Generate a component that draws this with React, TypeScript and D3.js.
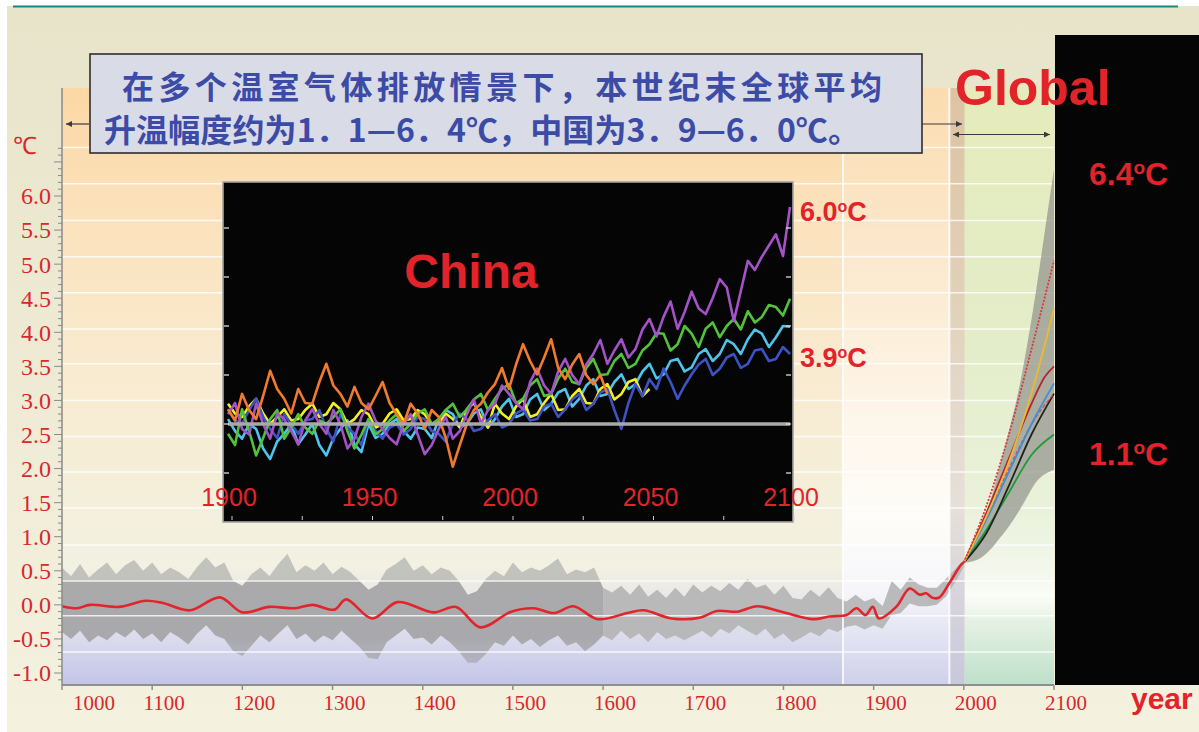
import React from 'react';
import * as d3 from 'd3';

// ---------- main chart: global temperature 1000–2100 ----------
const xTickYears = [1000, 1100, 1200, 1300, 1400, 1500, 1600, 1700, 1800, 1900, 2000, 2100];
const yTickValues = [6.0, 5.5, 5.0, 4.5, 4.0, 3.5, 3.0, 2.5, 2.0, 1.5, 1.0, 0.5, 0.0, -0.5, -1.0];
const gridValues = [-0.69, -0.16, 0.35, 0.88, 1.42, 1.95, 2.47, 3.0, 3.54, 4.05, 4.58, 5.11, 5.64, 6.18, 6.71];

// uncertainty range of the reconstruction, one value per decade 1000–2000
const bandYears = d3.range(1000, 2001, 10);
const bandUpper = [
  0.55, 0.42, 0.6, 0.4, 0.52, 0.62, 0.45, 0.58, 0.66, 0.5,
  0.62, 0.45, 0.55, 0.48, 0.38, 0.56, 0.7, 0.55, 0.62, 0.35,
  0.28, 0.45, 0.55, 0.42, 0.6, 0.75, 0.48, 0.58, 0.5, 0.62,
  0.45, 0.56, 0.48, 0.35, 0.22, 0.3, 0.52, 0.6, 0.7, 0.5,
  0.58, 0.45, 0.55, 0.5, 0.35, 0.15, 0.2, 0.38, 0.5, 0.42,
  0.62, 0.48, 0.55, 0.5, 0.58, 0.68, 0.45, 0.52, 0.48, 0.55,
  0.25, 0.18, 0.28, 0.15, 0.3, 0.12, 0.22, 0.1, 0.25, 0.12,
  0.3, 0.18, 0.28, 0.2, 0.32, 0.22, 0.38, 0.25, 0.3, 0.15,
  0.28, 0.1, 0.08, 0.22, 0.12, 0.26, 0.1, 0.05, 0.15, 0.05,
  0.1, -0.02, 0.35, 0.22, 0.4, 0.3, 0.25, 0.25, 0.38, 0.52,
  0.66,
];
const bandLower = [
  -0.4, -0.5, -0.38, -0.55, -0.45, -0.52, -0.4, -0.48, -0.36, -0.5,
  -0.42, -0.55, -0.4, -0.48, -0.58, -0.42, -0.3, -0.45, -0.5, -0.68,
  -0.75, -0.6, -0.45, -0.55, -0.42, -0.3, -0.5, -0.42, -0.55, -0.45,
  -0.52, -0.38, -0.5, -0.62, -0.78, -0.8, -0.55, -0.45, -0.35, -0.5,
  -0.48, -0.58, -0.45, -0.55, -0.68, -0.85, -0.85, -0.72, -0.55, -0.6,
  -0.45, -0.58, -0.5, -0.62, -0.52, -0.45, -0.6, -0.55, -0.68, -0.58,
  -0.45, -0.52, -0.38, -0.5, -0.42, -0.55, -0.4, -0.5, -0.45, -0.52,
  -0.45, -0.38, -0.48, -0.35, -0.42, -0.3, -0.38, -0.45, -0.35, -0.5,
  -0.42, -0.55, -0.48, -0.4, -0.46, -0.35, -0.4, -0.32, -0.3, -0.36,
  -0.3, -0.35, -0.15, -0.12, 0.02, -0.02, -0.02, 0.0, 0.12, 0.32,
  0.56,
];

// smoothed temperature curve
const smoothYears = [
  1000, 1017, 1031, 1063, 1093, 1111, 1142, 1175, 1200, 1230, 1258, 1278, 1302, 1315, 1344, 1372,
  1412, 1437, 1464, 1498, 1523, 1546, 1567, 1594, 1627, 1645, 1676, 1707, 1726, 1749, 1771, 1800,
  1833, 1851, 1870, 1881, 1891, 1899, 1906, 1925, 1940, 1951, 1958, 1966, 1973, 1984, 1997, 2000,
];
const smoothValues = [
  -0.02, -0.05, 0.0, -0.03, 0.06, 0.03, -0.08, 0.11, -0.11, -0.03, -0.05, 0.0, -0.07, 0.08, -0.2, 0.04,
  -0.11, -0.03, -0.33, -0.1, -0.05, -0.12, -0.02, -0.21, -0.12, -0.08, -0.2, -0.19, -0.09, -0.1, -0.02, -0.11,
  -0.21, -0.17, -0.15, -0.05, -0.15, -0.03, -0.2, -0.03, 0.24, 0.15, 0.17, 0.1, 0.11, 0.32, 0.59, 0.62,
];

// projection envelope 2000–2100
const envYears = [2000, 2010, 2020, 2030, 2040, 2050, 2060, 2070, 2080, 2090, 2100];
const envUpper = [0.62, 0.85, 1.15, 1.55, 2.05, 2.55, 3.1, 3.8, 4.6, 5.5, 6.4];
const envLower = [0.62, 0.64, 0.7, 0.82, 0.98, 1.15, 1.35, 1.58, 1.8, 1.92, 1.98];

// scenario projections
const scenYears = [2000, 2025, 2050, 2075, 2100];
const a1fiValues = [0.62, 1.45, 2.5, 3.75, 5.05];
const a2Values = [0.62, 1.3, 2.1, 3.1, 4.35];
const a1bYears = [2000, 2025, 2050, 2075, 2090, 2100];
const a1bValues = [0.62, 1.35, 2.15, 2.95, 3.35, 3.5];
const b2Values = [0.62, 1.25, 1.95, 2.65, 3.25];
const a1tValues = [0.62, 1.3, 2.0, 2.65, 3.1];
const is92Values = [0.62, 1.05, 1.75, 2.5, 3.1];
const b1Values = [0.62, 1.1, 1.65, 2.2, 2.5];

// ---------- inset: China 1900–2100, every 2.5 years ----------
const chinaYears = d3.range(0, 81).map(i => 1900 + i * 2.5);
const chinaTickYears = [1900, 1950, 2000, 2050, 2100];
const chinaMinorYears = d3.range(1900, 2101, 25);
const chinaTickValues = [2.2, 2.9, 3.6, 4.3, 5.0, 5.7];
const chinaBaseline = 2.9;
const orangeValues = [
  3.11, 2.95, 3.33, 3.1, 2.97, 3.3, 3.66, 3.4, 3.26, 3.05,
  3.4, 3.2, 3.19, 3.5, 3.76, 3.45, 3.33, 3.15, 3.43, 3.2,
  3.11, 3.3, 3.5, 3.2, 3.04, 2.9, 3.19, 3.05, 2.83, 3.1,
  3.0, 2.7, 2.29, 2.6, 2.9, 3.1, 3.19, 3.35, 3.47, 3.7,
  3.4, 3.75, 4.04, 3.8, 3.61, 3.85, 4.11, 3.7, 3.54, 3.75,
  3.9, 3.6, 3.47, 3.6, 3.33,
];
const purpleValues = [
  3.04, 3.2, 2.83, 2.75, 3.19, 2.9, 2.69, 3.05, 2.97, 2.8,
  2.61, 2.95, 3.11, 2.9, 2.76, 3.1, 2.9, 2.55, 2.69, 3.0,
  3.19, 2.95, 2.83, 2.7, 2.61, 2.9, 3.04, 2.75, 2.47, 2.6,
  2.83, 3.0, 2.69, 2.8, 3.04, 3.25, 2.9, 3.1, 3.19, 3.45,
  3.33, 3.2, 3.11, 3.5, 3.69, 3.45, 3.33, 3.65, 3.83, 3.6,
  3.47, 3.75, 3.9, 4.1, 3.76, 3.95, 4.11, 3.85, 3.97, 4.25,
  4.4, 4.15, 4.43, 4.65, 4.26, 4.5, 4.79, 4.55, 4.47, 4.7,
  4.97, 4.85, 4.37, 4.8, 5.23, 5.1, 5.29, 5.45, 5.61, 5.3,
  6.0,
];
const greenValues = [
  2.76, 2.6, 3.11, 2.8, 2.45, 2.7, 2.97, 3.1, 2.69, 2.85,
  3.04, 2.85, 2.76, 2.95, 2.9, 3.0, 3.11, 2.8, 2.55, 2.75,
  2.97, 2.75, 2.83, 2.95, 3.04, 2.8, 2.9, 3.05, 3.11, 2.9,
  2.97, 3.1, 3.19, 3.0, 3.11, 3.25, 3.33, 3.1, 3.26, 3.4,
  3.47, 3.2, 3.26, 3.45, 3.54, 3.3, 3.33, 3.55, 3.69, 3.5,
  3.47, 3.7, 3.83, 3.6, 3.61, 3.8, 3.9, 3.7, 3.76, 3.95,
  4.04, 4.2, 4.19, 3.95, 4.04, 4.3, 4.19, 4.0, 4.26, 4.35,
  4.14, 4.3, 4.4, 4.25, 4.51, 4.35, 4.43, 4.6, 4.57, 4.45,
  4.69,
];
const cyanValues = [
  2.97, 2.8, 2.69, 2.9, 2.83, 2.55, 2.4, 2.65, 2.76, 2.9,
  2.61, 2.75, 2.9, 2.6, 2.45, 2.7, 2.83, 2.95, 2.61, 2.5,
  2.9, 2.7, 2.76, 2.9, 2.97, 2.8, 2.69, 2.85, 2.83, 2.7,
  2.97, 3.1, 3.04, 2.85, 2.9, 3.05, 3.11, 2.85, 2.97, 3.15,
  3.26, 3.0, 3.04, 3.25, 3.33, 3.1, 3.19, 3.35, 3.4, 3.15,
  3.26, 3.45, 3.54, 3.3, 3.33, 3.5, 3.61, 3.4, 3.47, 3.65,
  3.76, 3.55, 3.61, 3.8, 3.83, 3.65, 3.71, 3.9, 3.97, 3.8,
  3.9, 4.1, 4.04, 3.9, 4.11, 4.25, 4.19, 4.0, 4.14, 4.3,
  4.29,
];
const blueValues = [
  3.11, 2.95, 2.9, 3.1, 3.26, 3.0, 2.83, 2.7, 3.04, 2.9,
  2.76, 2.95, 2.97, 3.1, 2.83, 2.65, 3.04, 2.85, 2.76, 2.6,
  2.97, 2.8, 2.69, 2.85, 2.9, 2.75, 2.83, 3.0, 2.97, 2.8,
  2.76, 2.65, 2.9, 3.05, 2.97, 2.8, 2.83, 2.95, 3.04, 2.85,
  2.9, 3.05, 3.11, 2.95, 2.97, 3.15, 3.19, 3.0, 3.11, 3.25,
  3.33, 3.1, 3.19, 3.35, 3.4, 3.1, 2.83, 3.2, 3.47, 3.3,
  3.54, 3.4, 3.69, 3.5, 3.26, 3.45, 3.61, 3.75, 3.83, 3.6,
  3.69, 3.85, 3.9, 3.7, 3.76, 3.95, 3.97, 3.8, 3.83, 4.0,
  3.9,
];
const yellowValues = [
  3.19, 3.05, 3.0, 3.15, 3.26, 3.05, 2.9, 3.0, 3.11, 2.95,
  2.97, 3.1, 3.19, 3.0, 3.04, 3.2, 3.11, 2.9, 2.97, 3.1,
  3.04, 2.85, 2.9, 3.05, 3.11, 2.95, 2.97, 3.1, 3.04, 2.9,
  2.9, 3.05, 2.97, 2.85, 3.11, 3.2, 3.0, 2.85, 3.19, 3.05,
  2.97, 3.15, 3.26, 3.0, 3.04, 3.2, 3.33, 3.1, 3.11, 3.3,
  3.4, 3.2, 3.19, 3.4, 3.47, 3.25, 3.33, 3.5, 3.54, 3.3,
  3.4,
];
const blackValues = [
  3.05, 2.98, 2.95, 3.05, 3.1, 3.0, 2.98, 3.06, 3.08, 2.97,
  2.94, 3.02, 3.06, 2.95, 2.99, 3.07, 3.1, 3.0, 2.96, 3.05,
  3.04, 2.95, 2.98, 3.06, 3.07, 2.98, 2.95, 3.03, 3.02, 2.96,
  2.97, 3.06, 3.05, 2.97, 3.0, 3.07, 3.08, 2.99, 3.02, 3.08,
  3.05,
];

const RED = '#e2232a';
const AXIS_RED = '#d8282c';
const SANS = '"Liberation Sans", Arial, sans-serif';
const SERIF = '"Liberation Serif", "Times New Roman", serif';
const CJK = '"Noto Sans CJK SC", "Noto Sans", sans-serif';

type P = [number, number];
const zip = (xs: number[], vs: number[]): P[] => vs.map((v, i) => [xs[i], v]);

export default function App() {
  const x = d3.scaleLinear().domain([1000, 2100]).range([62, 1054]);
  const y = d3.scaleLinear().domain([-1, 6]).range([673, 196]);
  const plotTop = 88;
  const plotBottom = 685;
  const [x0, x1] = x.range();

  const ix = d3.scaleLinear().domain([1900, 2100]).range([228, 790]);
  const iy = d3.scaleLinear().domain([2.9, 6.0]).range([424, 207]);

  type B = { yr: number; lo: number; hi: number };
  const bandPts: B[] = bandYears.map((yr, i) => ({ yr, lo: bandLower[i], hi: bandUpper[i] }));
  const bandArea = d3.area<B>().x(d => x(d.yr)).y0(d => y(d.lo)).y1(d => y(d.hi));
  const envPts: B[] = envYears.map((yr, i) => ({ yr, lo: envLower[i], hi: envUpper[i] }));
  const envArea = d3.area<B>().x(d => x(d.yr)).y0(d => y(d.lo)).y1(d => y(d.hi)).curve(d3.curveMonotoneX);

  const smoothLine = d3.line<P>().x(d => x(d[0])).y(d => y(d[1])).curve(d3.curveCatmullRom.alpha(0.5));
  const projLine = d3.line<P>().x(d => x(d[0])).y(d => y(d[1])).curve(d3.curveMonotoneX);
  const chinaLine = d3.line<P>().x(d => ix(d[0])).y(d => iy(d[1]));

  const minorTicks = d3.range(-11, 68).map(k => k / 10);

  // modern / projection background columns (by year)
  const modernStart = x(1866);
  const stripStart = x(1984);
  const projStart = x(2001);

  // band shading: lighter outside the ±0.35 core
  const gTop = y(0.8);
  const gBot = y(-0.9);
  const off = (v: number) => (y(v) - gTop) / (gBot - gTop);

  const scenarios: { years: number[]; values: number[]; color: string; dash?: string; w: number }[] = [
    { years: scenYears, values: b1Values, color: '#1f9a3a', w: 1.8 },
    { years: scenYears, values: is92Values, color: '#222222', w: 1.8 },
    { years: scenYears, values: a1tValues, color: '#d04848', dash: '4 2', w: 1.2 },
    { years: scenYears, values: b2Values, color: '#3d8fd6', w: 1.8 },
    { years: a1bYears, values: a1bValues, color: '#b3262d', w: 1.8 },
    { years: scenYears, values: a2Values, color: '#f0b830', w: 1.8 },
    { years: scenYears, values: a1fiValues, color: '#d83a3a', dash: '2 1.5', w: 1.8 },
  ];

  const chinaSeries: { values: number[]; color: string }[] = [
    { values: blackValues, color: '#000000' },
    { values: cyanValues, color: '#4cc4ec' },
    { values: yellowValues, color: '#f2f020' },
    { values: blueValues, color: '#3f52c4' },
    { values: greenValues, color: '#52c23c' },
    { values: purpleValues, color: '#a452c8' },
    { values: orangeValues, color: '#f27a2c' },
  ];

  return (
    <svg width={1199} height={732} style={{ position: 'absolute', left: 0, top: 0 }}>
      <defs>
        <linearGradient id="pageBg" x1="0" y1="0" x2="0" y2="1">
          <stop offset="0%" stopColor="#e8e4ca" />
          <stop offset="100%" stopColor="#f4f1df" />
        </linearGradient>
        <linearGradient id="pastBg" gradientUnits="userSpaceOnUse" x1="0" y1={plotTop} x2="0" y2={plotBottom}>
          <stop offset="0" stopColor="#fbd7a5" />
          <stop offset="0.2" stopColor="#fbe1ba" />
          <stop offset="0.45" stopColor="#f9eacf" />
          <stop offset="0.66" stopColor="#f5efd9" />
          <stop offset="0.8" stopColor="#f2f1e2" />
          <stop offset="0.87" stopColor="#e6e5ea" />
          <stop offset="0.93" stopColor="#d8d9ec" />
          <stop offset="1" stopColor="#c2c4e7" />
        </linearGradient>
        <linearGradient id="modernBg" gradientUnits="userSpaceOnUse" x1="0" y1={plotTop} x2="0" y2={plotBottom}>
          <stop offset="0" stopColor="#fbdcb0" />
          <stop offset="0.27" stopColor="#fbe8cc" />
          <stop offset="0.52" stopColor="#fdf4e6" />
          <stop offset="0.72" stopColor="#fefdf9" />
          <stop offset="0.84" stopColor="#f6f6fa" />
          <stop offset="1" stopColor="#cfd0ea" />
        </linearGradient>
        <linearGradient id="stripBg" gradientUnits="userSpaceOnUse" x1="0" y1={plotTop} x2="0" y2={plotBottom}>
          <stop offset="0" stopColor="#dcc3a2" />
          <stop offset="0.4" stopColor="#e2d3bd" />
          <stop offset="0.7" stopColor="#e6e0da" />
          <stop offset="1" stopColor="#c8c8dc" />
        </linearGradient>
        <linearGradient id="projBg" gradientUnits="userSpaceOnUse" x1="0" y1={plotTop} x2="0" y2={plotBottom}>
          <stop offset="0" stopColor="#e5ebbb" />
          <stop offset="0.35" stopColor="#e3ecc5" />
          <stop offset="0.7" stopColor="#e9f1da" />
          <stop offset="0.82" stopColor="#f4f8ee" />
          <stop offset="0.85" stopColor="#fbfdf8" />
          <stop offset="0.89" stopColor="#e7f2e4" />
          <stop offset="1" stopColor="#bde0c9" />
        </linearGradient>
        <linearGradient id="bandFill" gradientUnits="userSpaceOnUse" x1="0" y1={gTop} x2="0" y2={gBot}>
          <stop offset="0" stopColor="#c4c4be" />
          <stop offset={off(0.36)} stopColor="#c2c2bc" />
          <stop offset={off(0.34)} stopColor="#aaaaab" />
          <stop offset={off(-0.5)} stopColor="#a9a9ad" />
          <stop offset="1" stopColor="#b4b4c6" />
        </linearGradient>
        <marker id="arrow" viewBox="0 0 10 10" refX="10" refY="5" markerWidth="7" markerHeight="5"
          orient="auto-start-reverse">
          <path d="M0,0 L10,5 L0,10 z" fill="#3a3a3a" />
        </marker>
        <clipPath id="insetClip">
          <rect x={224} y={183} width={568} height={338} />
        </clipPath>
      </defs>

      {/* page */}
      <rect x={0} y={0} width={1199} height={732} fill="#ffffff" />
      <rect x={7} y={6} width={1192} height={726} fill="url(#pageBg)" />
      <line x1={13} x2={1178} y1={6.5} y2={6.5} stroke="#14857f" strokeWidth={2} />

      {/* background columns */}
      <rect x={x0} y={plotTop} width={modernStart - x0} height={plotBottom - plotTop} fill="url(#pastBg)" />
      <rect x={modernStart} y={plotTop} width={stripStart - modernStart} height={plotBottom - plotTop} fill="url(#modernBg)" />
      <rect x={stripStart} y={plotTop} width={projStart - stripStart} height={plotBottom - plotTop} fill="url(#stripBg)" />
      <rect x={projStart} y={plotTop} width={x1 - projStart} height={plotBottom - plotTop} fill="url(#projBg)" />

      {/* reconstruction uncertainty */}
      <path d={bandArea(bandPts.slice(0, 61)) || ''} fill="url(#bandFill)" />
      <path d={bandArea(bandPts.slice(60)) || ''} fill="#b4b4b5" opacity={0.9} />

      {/* grid */}
      {gridValues.map(v => (
        <line key={v} x1={x0} x2={x1} y1={y(v)} y2={y(v)} stroke="#ffffff" strokeOpacity={0.8} strokeWidth={1.5} />
      ))}
      <line x1={modernStart} x2={modernStart} y1={plotTop} y2={plotBottom} stroke="#ffffff" strokeOpacity={0.8} strokeWidth={2} />
      <line x1={stripStart} x2={stripStart} y1={plotTop} y2={plotBottom} stroke="#ffffff" strokeOpacity={0.8} strokeWidth={2} />

      {/* projections */}
      <path d={envArea(envPts) || ''} fill="#95978f" opacity={0.75} />
      {scenarios.map((s, i) => (
        <path key={i} d={projLine(zip(s.years, s.values)) || ''} fill="none" stroke={s.color}
          strokeWidth={s.w} strokeDasharray={s.dash} />
      ))}

      {/* smoothed curve */}
      <path d={smoothLine(zip(smoothYears, smoothValues)) || ''} fill="none" stroke="#e0262c" strokeWidth={2.6} />

      {/* y axis */}
      <line x1={x0} x2={x0} y1={plotTop} y2={plotBottom} stroke="#8a8a8a" strokeWidth={1.5} />
      {minorTicks.map(v => {
        const major = Math.abs(v * 2 - Math.round(v * 2)) < 1e-6;
        return (
          <line key={v} x1={x0 - (major ? 8 : 4)} x2={x0} y1={y(v)} y2={y(v)} stroke="#8a8a8a" strokeWidth={1} />
        );
      })}
      {yTickValues.map(v => (
        <text key={v} x={51} y={y(v)} dy="0.35em" textAnchor="end" fontFamily={SERIF} fontSize={24} fill={AXIS_RED}>
          {d3.format('.1f')(v).replace('−', '-')}
        </text>
      ))}
      <text x={13} y={154} fontFamily={SERIF} fontSize={24} fill={AXIS_RED}>℃</text>

      {/* x axis */}
      <line x1={x0} x2={x1} y1={plotBottom} y2={plotBottom} stroke="#8f8f8f" strokeWidth={2} />
      {xTickYears.map(t => (
        <line key={t} x1={x(t)} x2={x(t)} y1={plotBottom} y2={plotBottom + 5} stroke="#8f8f8f" strokeWidth={1.5} />
      ))}
      {xTickYears.map((t, i) => (
        <text key={t} x={i === 0 ? x(t) + 11 : x(t) + 12} y={710} textAnchor={i === 0 ? 'start' : 'middle'}
          fontFamily={SERIF} fontSize={21} fill={AXIS_RED}>{t}</text>
      ))}
      <text x={1131} y={709} fontFamily={SANS} fontWeight="bold" fontSize={30} fill={RED}>year</text>

      {/* right-hand black panel */}
      <rect x={1055} y={35} width={144} height={plotBottom - 35} fill="#050505" />
      <text x={955} y={105} fontFamily={SANS} fontWeight="bold" fontSize={50} fill={RED}>Global</text>
      <text x={1089} y={185} fontFamily={SANS} fontWeight="bold" fontSize={32} fill={RED}>
        6.4<tspan fontSize={19} dy={-11}>o</tspan><tspan dy={11}>C</tspan>
      </text>
      <text x={1089} y={465} fontFamily={SANS} fontWeight="bold" fontSize={32} fill={RED}>
        1.1<tspan fontSize={19} dy={-11}>o</tspan><tspan dy={11}>C</tspan>
      </text>

      {/* arrows */}
      <line x1={89} x2={66} y1={124} y2={124} stroke="#3a3a3a" strokeWidth={1.2} markerEnd="url(#arrow)" />
      <line x1={922} x2={962} y1={124} y2={124} stroke="#3a3a3a" strokeWidth={1.2} markerEnd="url(#arrow)" />
      <line x1={953} x2={1050} y1={134.5} y2={134.5} stroke="#3a3a3a" strokeWidth={1.2}
        markerStart="url(#arrow)" markerEnd="url(#arrow)" />

      {/* ---------- China inset ---------- */}
      <rect x={223} y={182} width={570} height={340} fill="#050505" stroke="#a4a4a4" strokeWidth={1.6} />
      <g clipPath="url(#insetClip)">
        {chinaSeries.map((s, i) => (
          <path key={i} d={chinaLine(zip(chinaYears, s.values)) || ''} fill="none" stroke={s.color}
            strokeWidth={2.6} strokeLinejoin="round" />
        ))}
      </g>
      <line x1={ix(1900)} x2={ix(2100)} y1={iy(chinaBaseline)} y2={iy(chinaBaseline)} stroke="#a9a9a9" strokeWidth={3.5} />
      {chinaTickValues.map(v => (
        <g key={v}>
          <line x1={224} x2={229} y1={iy(v)} y2={iy(v)} stroke="#dddddd" strokeWidth={1.3} />
          <line x1={786} x2={791} y1={iy(v)} y2={iy(v)} stroke="#dddddd" strokeWidth={1.3} />
        </g>
      ))}
      {chinaMinorYears.map(t => (
        <line key={t} x1={ix(t) + 4} x2={ix(t) + 4} y1={516} y2={520} stroke="#cccccc" strokeWidth={1} />
      ))}
      {chinaTickYears.map(t => (
        <text key={t} x={ix(t) + 1} y={506} textAnchor="middle" fontFamily={SANS} fontSize={25} fill={RED}>{t}</text>
      ))}
      <text x={471} y={288} textAnchor="middle" fontFamily={SANS} fontWeight="bold" fontSize={48} fill={RED}>China</text>
      <text x={800} y={221} fontFamily={SANS} fontWeight="bold" fontSize={27} fill={RED}>
        6.0<tspan fontSize={16} dy={-9}>o</tspan><tspan dy={9}>C</tspan>
      </text>
      <text x={800} y={367} fontFamily={SANS} fontWeight="bold" fontSize={27} fill={RED}>
        3.9<tspan fontSize={16} dy={-9}>o</tspan><tspan dy={9}>C</tspan>
      </text>

      {/* caption box */}
      <rect x={90} y={54} width={832} height={99} fill="#d9dbe6" stroke="#2e2e2e" strokeWidth={1.6} />
      <text x={122} y={99} fontFamily={CJK} fontWeight="bold" fontSize={32} fill="#3b4ba6"
        textLength={760} lengthAdjust="spacing">在多个温室气体排放情景下，本世纪末全球平均</text>
      <text x={104} y={142} fontFamily={CJK} fontWeight="bold" fontSize={32} fill="#3b4ba6"
        textLength={756} lengthAdjust="spacing">升温幅度约为1．1—6．4℃，中国为3．9—6．0℃。</text>
    </svg>
  );
}
